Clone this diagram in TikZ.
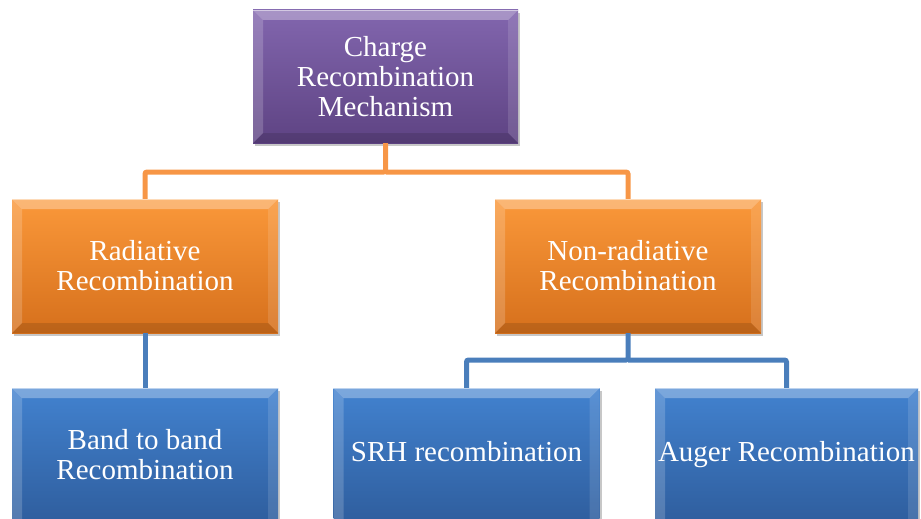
\documentclass[tikz,border=0pt]{standalone}
\usepackage{fontspec}
\setmainfont{Liberation Serif}
\usetikzlibrary{shadows}
\definecolor{pTop}{HTML}{8266AE}
\definecolor{pBot}{HTML}{5E4383}
\definecolor{oTop}{HTML}{FA983A}
\definecolor{oBot}{HTML}{D6701C}
\definecolor{bTop}{HTML}{4282CF}
\definecolor{bBot}{HTML}{2F5E9E}
\definecolor{oLine}{HTML}{F79646}
\definecolor{bLine}{HTML}{4A7EBB}
\newcommand{\mybevelsides}{%
  \coordinate (bvNW) at (path picture bounding box.north west);
  \coordinate (bvNE) at (path picture bounding box.north east);
  \coordinate (bvSW) at (path picture bounding box.south west);
  \coordinate (bvSE) at (path picture bounding box.south east);
  \fill[white,opacity=0.30] (bvNW) -- (bvNE) -- ([shift={(-10pt,-10pt)}]bvNE) -- ([shift={(10pt,-10pt)}]bvNW) -- cycle;
  \draw[white,opacity=0.5,line width=0.8pt] ([shift={(0.4pt,-0.4pt)}]bvNW) -- ([shift={(-0.4pt,-0.4pt)}]bvNE);
}
\newcommand{\mybevel}{%
  \mybevelsides
  \fill[white,opacity=0.18] (bvNW) -- ([shift={(10pt,-10pt)}]bvNW) -- ([shift={(10pt,10pt)}]bvSW) -- (bvSW) -- cycle;
  \fill[white,opacity=0.12] (bvNE) -- ([shift={(-10pt,-10pt)}]bvNE) -- ([shift={(-10pt,10pt)}]bvSE) -- (bvSE) -- cycle;
  \fill[black,opacity=0.12] (bvSW) -- ([shift={(10pt,10pt)}]bvSW) -- ([shift={(-10pt,10pt)}]bvSE) -- (bvSE) -- cycle;
}
\newcommand{\mybevelnb}{%
  \mybevelsides
  \fill[white,opacity=0.18] (bvNW) -- ([shift={(10pt,-10pt)}]bvNW) -- ([shift={(10pt,0pt)}]bvSW) -- (bvSW) -- cycle;
  \fill[white,opacity=0.12] (bvNE) -- ([shift={(-10pt,-10pt)}]bvNE) -- ([shift={(-10pt,0pt)}]bvSE) -- (bvSE) -- cycle;
}
\tikzset{
  box/.style={rectangle, minimum width=266pt, minimum height=134pt, inner sep=0pt,
    text=white, align=center, font=\fontsize{29}{30}\selectfont,
    drop shadow={shadow xshift=2pt, shadow yshift=-3pt, opacity=0.22, fill=black},
    path picture={\mybevel}},
  purplebox/.style={box, top color=pTop, bottom color=pBot},
  orangebox/.style={box, top color=oTop, bottom color=oBot},
  bluebox/.style={box, top color=bTop, bottom color=bBot, path picture={\mybevelnb}},
  oconn/.style={draw=oLine, line width=5pt, rounded corners=2pt},
  bconn/.style={draw=bLine, line width=5pt, rounded corners=2pt}
}
\begin{document}
\begin{tikzpicture}[x=1pt,y=-1pt]
\useasboundingbox (0,0) rectangle (921,519);
\clip (0,0) rectangle (921,519);
\coordinate (ojoin) at (385.5,172);
\coordinate (bjoin) at (628,360);
\node[purplebox, minimum width=265pt, minimum height=133pt] (top) at (385.5,76.5) {Charge\\Recombination\\Mechanism};
\node[orangebox] (rad) at (145,266) {Radiative\\Recombination};
\node[orangebox] (nonrad) at (628,266) {Non-radiative\\Recombination};
\node[bluebox] (band) at (145,455) {Band to band\\Recombination};
\node[bluebox] (srh) at (466.5,455) {\strut SRH recombination};
\node[bluebox, minimum width=263pt] (auger) at (786.5,455) {\strut Auger Recombination};
\draw[oconn] (top.south) -- (ojoin) -| (rad.north);
\draw[oconn] (ojoin) -| (nonrad.north);
\draw[bconn] (rad.south) -- (band.north);
\draw[bconn] (nonrad.south) -- (bjoin) -| (srh.north);
\draw[bconn] (bjoin) -| (auger.north);
\end{tikzpicture}
\end{document}
